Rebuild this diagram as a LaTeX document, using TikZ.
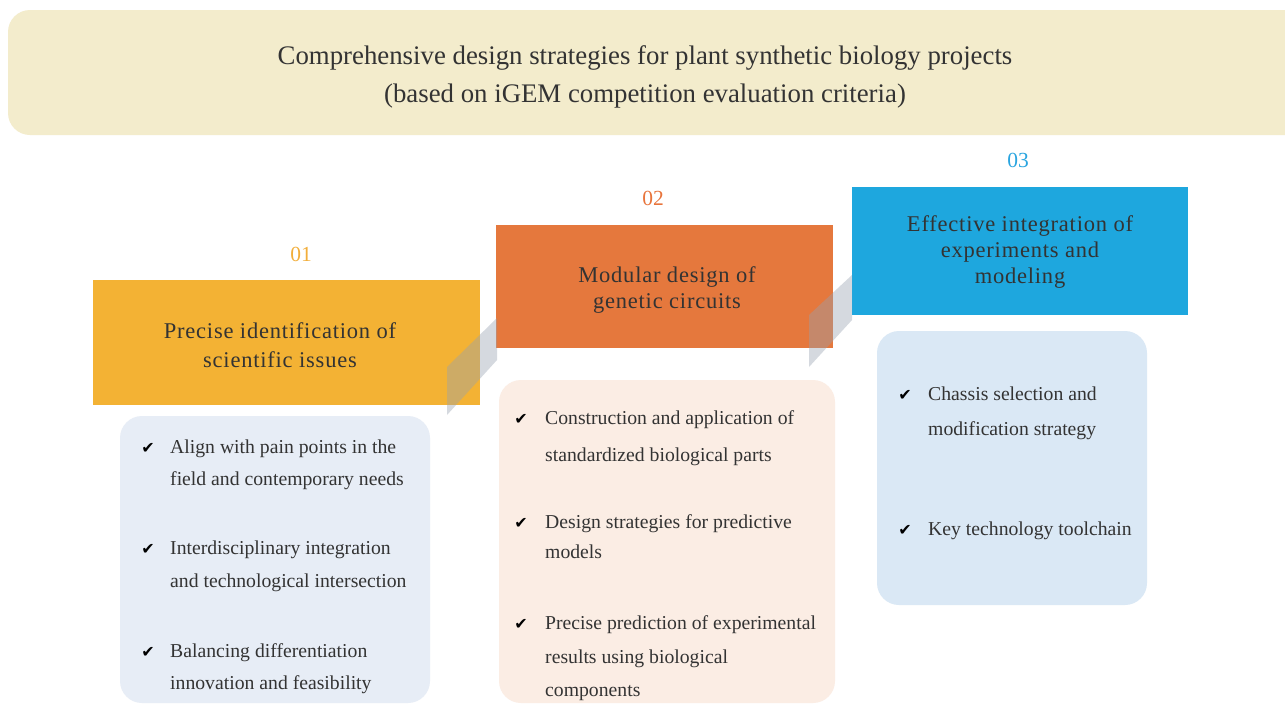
\documentclass[tikz,border=0pt]{standalone}
\usepackage{fontspec}
\setmainfont{Liberation Serif}
\newfontfamily\symfont{DejaVu Sans}
\newfontfamily\titlefont[LetterSpace=3.5]{Liberation Serif}
\definecolor{headbg}{HTML}{F3ECCC}
\definecolor{txt}{HTML}{333333}
\definecolor{c1}{HTML}{F3B234}
\definecolor{c2}{HTML}{E5783D}
\definecolor{c3}{HTML}{1EA7DE}
\definecolor{n1}{HTML}{F2AE3A}
\definecolor{n2}{HTML}{E8743B}
\definecolor{n3}{HTML}{2AA5E0}
\definecolor{p1}{HTML}{E7EDF6}
\definecolor{p2}{HTML}{FBEDE4}
\definecolor{p3}{HTML}{DAE8F5}
\definecolor{link}{HTML}{96A2B1}
\tikzset{
  headline/.style={anchor=base, font=\fontsize{26.8}{30}\selectfont, text=txt, inner sep=0pt},
  boxtitle/.style={anchor=base, font=\titlefont\fontsize{22.5}{26}\selectfont, text=txt, inner sep=0pt},
  stepnum/.style={anchor=base, font=\fontsize{21.5}{25}\selectfont, inner sep=0pt},
  itemline/.style={anchor=base west, font=\fontsize{19.7}{24}\selectfont, text=txt, inner sep=0pt},
  tick/.style={anchor=base, font=\symfont\fontsize{16}{18}\selectfont, text=black, inner sep=0pt},
  panel/.style={rounded corners=22pt},
  linkband/.style={fill=link, fill opacity=0.4},
}
\begin{document}
\begin{tikzpicture}[x=1pt,y=-1pt]
\useasboundingbox (0,0) rectangle (1285,705);
\fill[white] (0,0) rectangle (1285,705);
\begin{scope}
\clip (0,0) rectangle (1285,705);

% header banner
\fill[headbg, rounded corners=22pt] (8,10) rectangle (1310,135);
\node[headline] (h1) at (645,64) {Comprehensive design strategies for plant synthetic biology projects};
\node[headline] (h2) at (645,102) {(based on iGEM competition evaluation criteria)};

% lower panels with checklists
\fill[p1, panel] (120,416) rectangle (430,703);
\fill[p2, panel] (499,380) rectangle (835,703);
\fill[p3, panel] (877,331) rectangle (1147,605);

% coloured step boxes
\fill[c1] (93,280) rectangle (480,405);
\fill[c2] (496,225) rectangle (833,348);
\fill[c3] (852,187) rectangle (1188,315);

% slanted bands joining the steps
\fill[linkband] (447,367) -- (497,318) -- (497,360) -- (447,415) -- cycle;
\fill[linkband] (809,315) -- (852,275) -- (852,320) -- (809,367) -- cycle;

% step numbers
\node[stepnum, text=n1] (n01) at (301,261) {01};
\node[stepnum, text=n2] (n02) at (653,205) {02};
\node[stepnum, text=n3] (n03) at (1018,167) {03};

% step titles
\node[boxtitle] (t1a) at (280,338) {Precise identification of};
\node[boxtitle] (t1b) at (280,367) {scientific issues};
\node[boxtitle] (t2a) at (667,282) {Modular design of};
\node[boxtitle] (t2b) at (667,308) {genetic circuits};
\node[boxtitle] (t3a) at (1020,231) {Effective integration of};
\node[boxtitle] (t3b) at (1020,257) {experiments and};
\node[boxtitle] (t3c) at (1020,283) {modeling};

% checklist 1
\node[tick] (k11) at (148,453) {✔};
\node[itemline] (a1) at (170,453) {Align with pain points in the};
\node[itemline] (a2) at (170,485) {field and contemporary needs};
\node[tick] (k12) at (148,554) {✔};
\node[itemline] (a3) at (170,554) {Interdisciplinary integration};
\node[itemline] (a4) at (170,587) {and technological intersection};
\node[tick] (k13) at (148,657) {✔};
\node[itemline] (a5) at (170,657) {Balancing differentiation};
\node[itemline] (a6) at (170,689) {innovation and feasibility};

% checklist 2
\node[tick] (k21) at (521,424) {✔};
\node[itemline] (b1) at (545,424) {Construction and application of};
\node[itemline] (b2) at (545,461) {standardized biological parts};
\node[tick] (k22) at (521,528) {✔};
\node[itemline] (b3) at (545,528) {Design strategies for predictive};
\node[itemline] (b4) at (545,558) {models};
\node[tick] (k23) at (521,629) {✔};
\node[itemline] (b5) at (545,629) {Precise prediction of experimental};
\node[itemline] (b6) at (545,663) {results using biological};
\node[itemline] (b7) at (545,696) {components};

% checklist 3
\node[tick] (k31) at (905,400) {✔};
\node[itemline] (c1l) at (928,400) {Chassis selection and};
\node[itemline] (c2l) at (928,435) {modification strategy};
\node[tick] (k32) at (905,535) {✔};
\node[itemline] (c3l) at (928,535) {Key technology toolchain};
\end{scope}
\end{tikzpicture}
\end{document}
